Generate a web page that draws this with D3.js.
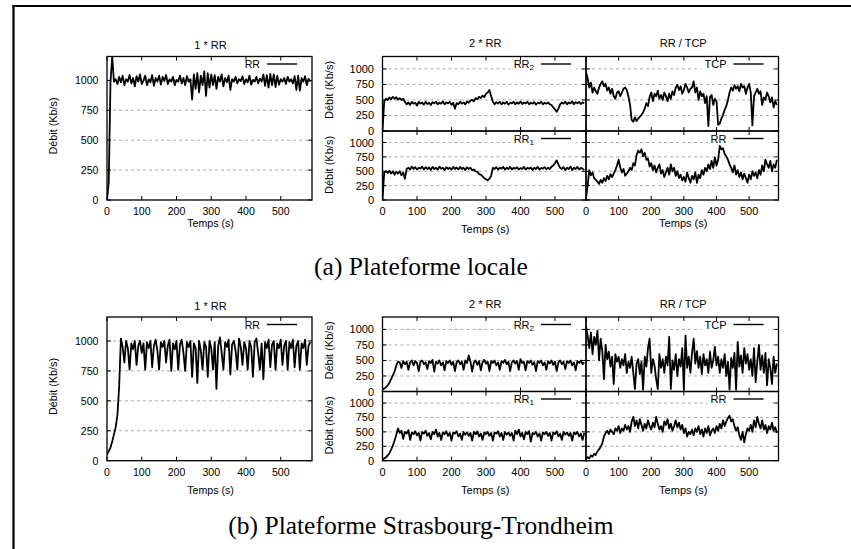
<!DOCTYPE html>
<html lang="fr">
<head>
<meta charset="UTF-8">
<title>Débit RR / TCP</title>
<script src="https://d3js.org/d3.v7.min.js"></script>
<style>
    body { margin: 0; background: #fff; }
    svg { display: block; }
    .sans { font-family: "Liberation Sans", Arial, Helvetica, sans-serif; fill: #000; }
    .caption { font-family: "Liberation Serif", "Times New Roman", serif; fill: #000; }
</style>
</head>
<body>
<svg id="chart" width="851" height="549"></svg>
<script>
// sampling step of every series (s)
const T_STEP = 5;
const xTicks = [0, 100, 200, 300, 400, 500];
const yTicks = [0, 250, 500, 750, 1000];
const panelTitles = ["1 * RR", "2 * RR", "RR / TCP"];
const captions = ["(a) Plateforme locale", "(b) Plateforme Strasbourg-Trondheim"];
const xLabel = "Temps (s)";
const yLabel = "Débit (Kb/s)";

// (a) plateforme locale
const localSingle = [
    0, 150, 980, 1200, 990, 1010, 970, 1030, 985, 1040,
    960, 1010, 990, 1045, 975, 1020, 950, 1035, 990, 1050,
    970, 1000, 1040, 960, 1010, 985, 1045, 955, 1020, 990,
    1040, 965, 1030, 995, 1045, 970, 1010, 990, 1030, 960,
    1005, 990, 1040, 975, 1020, 960, 1035, 990, 1010, 840,
    1050, 930, 1060, 900, 1040, 960, 1075, 870, 1060, 940,
    1050, 960, 1045, 930, 1030, 990, 1050, 950, 1020, 985,
    1040, 920, 1010, 990, 1030, 975, 1010, 995, 1035, 970,
    1010, 985, 1040, 965, 1005, 990, 1030, 975, 1015, 990,
    1050, 955, 1045, 940, 1055, 960, 1050, 945, 1040, 965,
    1010, 990, 1020, 970, 1030, 990, 1010, 975, 1035, 920,
    1040, 915, 1020, 990, 1035, 960, 1015, 990
];
const localRR2 = [
    0, 480, 520, 500, 540, 510, 550, 520, 545, 505,
    530, 500, 520, 470, 430, 460, 420, 470, 440, 455,
    410, 470, 440, 460, 425, 470, 435, 455, 420, 465,
    445, 470, 430, 455, 440, 475, 430, 460, 445, 470,
    420, 455, 360, 450, 430, 470, 440, 460, 430, 475,
    455, 490, 500, 480, 530, 510, 550, 530, 570, 545,
    600, 620, 660, 560, 470, 430, 465, 440, 470, 430,
    460, 440, 470, 425, 455, 445, 470, 430, 460, 440,
    475, 435, 460, 445, 470, 430, 455, 440, 465, 425,
    455, 445, 470, 430, 455, 440, 460, 430, 420, 380,
    350, 310, 360, 430, 460, 440, 470, 430, 460, 445,
    480, 430, 465, 445, 470, 435, 460, 450
];
const localRR1 = [
    0, 480, 500, 470, 510, 460, 500, 440, 490, 460,
    500, 430, 480, 370, 540, 560, 530, 580, 540, 570,
    530, 560, 545, 580, 530, 570, 540, 565, 520, 575,
    540, 560, 530, 580, 545, 560, 520, 570, 540, 560,
    530, 575, 540, 565, 530, 575, 540, 560, 520, 570,
    540, 560, 520, 530, 500, 490, 450, 440, 410, 380,
    360, 340, 370, 420, 560, 540, 570, 530, 560, 545,
    575, 530, 560, 540, 575, 530, 560, 545, 570, 530,
    555, 540, 575, 530, 560, 545, 565, 520, 560, 540,
    575, 530, 560, 545, 570, 535, 560, 540, 580, 600,
    640, 690, 620, 560, 540, 570, 520, 560, 540, 580,
    520, 560, 540, 575, 530, 560, 545, 520
];
const localTCP = [
    950, 850, 700, 780, 620, 700, 640, 600, 700, 760,
    800, 720, 760, 650, 700, 600, 680, 560, 520, 620,
    640, 560, 620, 680, 700, 660, 560, 420, 180, 150,
    220, 160, 200, 230, 260, 300, 360, 450, 400, 550,
    620, 480, 600, 560, 650, 520, 580, 500, 620, 560,
    480, 600, 520, 640, 580, 700, 740, 660, 720, 600,
    660, 760, 700, 620, 680, 700, 800, 620, 700, 500,
    640, 560, 600, 450, 560, 80, 550, 580, 420, 520,
    480, 100, 120, 200, 260, 340, 400, 500, 620, 700,
    650, 740, 680, 720, 640, 760, 700, 720, 600, 700,
    760, 620, 90, 560, 620, 680, 600, 640, 420, 540,
    500, 620, 560, 460, 540, 380, 480, 420
];
const localRR = [
    30, 250, 520, 430, 480, 380, 350, 320, 280, 350,
    300, 380, 330, 420, 360, 450, 400, 460, 520, 600,
    700, 560, 480, 540, 420, 460, 500, 560, 520, 640,
    600, 780, 860, 820, 880, 760, 820, 700, 720, 580,
    640, 520, 600, 480, 560, 620, 460, 520, 400, 480,
    560, 440, 620, 500, 560, 420, 500, 380, 440, 340,
    400, 320, 480, 380, 300, 420, 360, 480, 300, 440,
    380, 520, 440, 560, 500, 620, 540, 680, 560, 740,
    600, 700, 940, 880, 900, 800, 760, 700, 620, 560,
    480, 600, 440, 520, 400, 480, 360, 460, 380, 300,
    440, 360, 500, 420, 480, 380, 520, 440, 600, 500,
    700, 620, 560, 680, 500, 620, 560, 700
];

// (b) plateforme Strasbourg-Trondheim
const strasSingle = [
    50, 80, 110, 160, 220, 280, 380, 620, 1020, 950,
    820, 1000, 940, 760, 980, 930, 1000, 800, 960, 1000,
    900, 980, 760, 990, 940, 1000, 780, 960, 1010, 920,
    760, 990, 950, 1000, 820, 960, 1010, 750, 980, 930,
    1000, 760, 970, 1010, 900, 750, 990, 950, 1000, 700,
    980, 940, 650, 1000, 920, 760, 990, 950, 700, 1000,
    940, 760, 990, 600, 960, 1030, 900, 760, 990, 950,
    1010, 720, 970, 1000, 920, 760, 1020, 950, 800, 990,
    940, 760, 1000, 950, 700, 990, 1020, 900, 760, 980,
    680, 990, 940, 1010, 780, 970, 1000, 760, 980, 940,
    1010, 800, 960, 1000, 760, 990, 940, 1010, 780, 960,
    1000, 760, 980, 940, 1010, 800, 960, 990
];
const strasRR2 = [
    30, 50, 70, 100, 140, 200, 260, 320, 420, 480,
    470, 380, 490, 440, 480, 350, 470, 500, 420, 490,
    460, 330, 480, 500, 440, 470, 360, 490, 460, 510,
    320, 480, 450, 500, 420, 470, 340, 490, 460, 500,
    430, 480, 330, 470, 500, 440, 480, 350, 500, 460,
    580, 480, 320, 470, 500, 430, 490, 340, 470, 510,
    450, 480, 330, 490, 460, 500, 420, 470, 350, 490,
    460, 510, 440, 480, 330, 470, 500, 450, 490, 350,
    520, 460, 480, 340, 490, 460, 500, 430, 470, 330,
    490, 460, 500, 420, 470, 350, 490, 450, 500, 430,
    480, 330, 470, 500, 440, 480, 360, 490, 460, 500,
    420, 470, 340, 490, 460, 500, 440, 470
];
const strasRR1 = [
    20, 40, 60, 90, 130, 190, 260, 350, 450, 560,
    480, 520, 380, 500, 470, 530, 360, 490, 460, 510,
    440, 480, 350, 500, 470, 520, 430, 480, 370, 500,
    460, 540, 420, 480, 360, 490, 460, 510, 430, 480,
    350, 490, 470, 510, 420, 470, 360, 500, 450, 490,
    430, 480, 350, 500, 460, 510, 420, 470, 360, 490,
    460, 500, 430, 480, 350, 490, 470, 510, 420, 480,
    360, 500, 450, 490, 430, 480, 350, 520, 460, 540,
    420, 480, 370, 500, 460, 510, 330, 480, 460, 500,
    420, 470, 350, 490, 460, 500, 430, 480, 350, 490,
    460, 510, 420, 470, 360, 500, 450, 490, 430, 480,
    350, 490, 460, 500, 420, 470, 360, 480
];
const strasTCP = [
    1050, 900, 700, 950, 600, 880, 750, 980, 500, 850,
    650, 200, 750, 520, 640, 400, 560, 120, 600, 480,
    560, 380, 520, 420, 600, 300, 480, 380, 560, 300,
    40, 450, 520, 280, 480, 30, 560, 400, 700, 850,
    300, 520, 420, 200, 40, 600, 380, 520, 300, 560,
    420, 880, 40, 500, 350, 600, 250, 520, 400, 700,
    30, 900, 380, 560, 300, 620, 850, 450, 650, 380,
    560, 280, 600, 420, 520, 300, 640, 380, 500, 720,
    420, 560, 300, 520, 380, 600, 250, 480, 30, 540,
    380, 620, 30, 800, 400, 580, 300, 700, 450, 600,
    350, 520, 250, 700, 150, 480, 750, 350, 580, 300,
    620, 100, 520, 380, 120, 560, 300, 450
];
const strasRR = [
    30, 60, 40, 90, 70, 120, 100, 160, 200, 240,
    300, 420, 480, 520, 460, 540, 500, 460, 560, 520,
    600, 480, 560, 520, 620, 540, 600, 500, 680, 760,
    600, 700, 560, 720, 620, 520, 640, 560, 700, 600,
    540, 660, 580, 760, 640, 540, 600, 500, 680, 620,
    720, 560, 640, 520, 600, 700, 580, 660, 540, 620,
    480, 560, 420, 500, 460, 540, 440, 560, 500, 600,
    460, 540, 420, 560, 480, 600, 440, 520, 560, 480,
    600, 520, 640, 560, 700, 600, 680, 740, 780, 680,
    720, 600, 520, 580, 440, 360, 500, 320, 460, 560,
    520, 620, 500, 700, 580, 760, 640, 560, 700, 540,
    620, 480, 600, 540, 660, 520, 580, 480
];

const svg = d3.select("#chart");
svg.append("rect").attr("width", 851).attr("height", 549).attr("fill", "#fff");

// page frame (left + top rules)
svg.append("line").attr("x1", 13.5).attr("x2", 13.5).attr("y1", 5).attr("y2", 549)
    .attr("stroke", "#000").attr("stroke-width", 2.2);
svg.append("line").attr("x1", 12.5).attr("x2", 851).attr("y1", 6).attr("y2", 6)
    .attr("stroke", "#000").attr("stroke-width", 2.2);

const cols = [[107, 312], [382.5, 586], [586, 778.5]];
const rows = [
    { top: 56.5, mid: 131, bottom: 200, titleY: [45.3, 43.3, 43.3], tickY: 211, xLabY: [223, 229, 223], capY: 266,
      data: [localSingle, localRR2, localRR1, localTCP, localRR] },
    { top: 317, mid: 391.5, bottom: 460.7, titleY: [306, 304.3, 303.5], tickY: 472, xLabY: [490, 490, 490], capY: 525,
      data: [strasSingle, strasRR2, strasRR1, strasTCP, strasRR] }
];

let clipCount = 0;

function drawPlot(box, values, opt) {
    const x = d3.scaleLinear().domain([0, 590]).range([box.x0, box.x1]);
    const y = d3.scaleLinear().domain([0, 1200]).range([box.y1, box.y0]);
    const g = svg.append("g");
    const fs = opt.fontSize || 11;

    const id = "clip" + (clipCount++);
    g.append("clipPath").attr("id", id).append("rect")
        .attr("x", box.x0).attr("y", box.y0)
        .attr("width", box.x1 - box.x0).attr("height", box.y1 - box.y0);

    // horizontal grid
    g.selectAll("line.grid").data(yTicks.filter(d => d > 0)).join("line")
        .attr("class", "grid")
        .attr("x1", box.x0).attr("x2", box.x1)
        .attr("y1", d => y(d)).attr("y2", d => y(d))
        .attr("stroke", "#a0a0a0").attr("stroke-width", 0.9)
        .attr("stroke-dasharray", "3,3");

    const line = d3.line().x((d, i) => x(i * T_STEP)).y(d => y(d));
    g.append("path").datum(values)
        .attr("d", line)
        .attr("fill", "none").attr("stroke", "#000")
        .attr("stroke-width", 1.8).attr("stroke-linejoin", "round")
        .attr("clip-path", `url(#${id})`);

    // key (opaque)
    const ky = box.y0 + 7.5;
    const keyBg = g.append("rect").attr("fill", "#fff");
    const kt = g.append("text").attr("class", "sans")
        .attr("x", box.x1 - 52).attr("y", ky)
        .attr("text-anchor", "end").attr("dominant-baseline", "central")
        .style("font-size", fs + "px");
    kt.append("tspan").text(opt.key);
    if (opt.sub) {
        kt.append("tspan").attr("dy", 3).style("font-size", (fs - 3) + "px").text(opt.sub);
    }
    const kw = kt.node().getComputedTextLength();
    keyBg.attr("x", box.x1 - 52 - kw - 3).attr("y", box.y0 + 1)
        .attr("width", kw + 3 + 42).attr("height", 13);
    g.append("line")
        .attr("x1", box.x1 - 45).attr("x2", box.x1 - 15)
        .attr("y1", ky).attr("y2", ky)
        .attr("stroke", "#000").attr("stroke-width", 1.4);

    // frame
    g.append("rect")
        .attr("x", box.x0).attr("y", box.y0)
        .attr("width", box.x1 - box.x0).attr("height", box.y1 - box.y0)
        .attr("fill", "none").attr("stroke", "#000").attr("stroke-width", 1.3);

    // inward ticks on all four sides
    const tl = 4;
    xTicks.forEach(t => {
        g.append("line").attr("x1", x(t)).attr("x2", x(t))
            .attr("y1", box.y1).attr("y2", box.y1 - tl).attr("stroke", "#000");
        g.append("line").attr("x1", x(t)).attr("x2", x(t))
            .attr("y1", box.y0).attr("y2", box.y0 + tl).attr("stroke", "#000");
    });
    yTicks.forEach(v => {
        g.append("line").attr("x1", box.x0).attr("x2", box.x0 + tl)
            .attr("y1", y(v)).attr("y2", y(v)).attr("stroke", "#000");
        g.append("line").attr("x1", box.x1).attr("x2", box.x1 - tl)
            .attr("y1", y(v)).attr("y2", y(v)).attr("stroke", "#000");
    });

    if (opt.showY) {
        g.selectAll("text.ytl").data(yTicks).join("text")
            .attr("class", "sans ytl")
            .attr("x", box.x0 - 8.5).attr("y", d => y(d))
            .attr("text-anchor", "end").attr("dominant-baseline", "central")
            .style("font-size", fs + "px")
            .text(d => d);
    }
    if (opt.tickY) {
        g.selectAll("text.xtl").data(xTicks).join("text")
            .attr("class", "sans xtl")
            .attr("x", d => x(d)).attr("y", opt.tickY)
            .attr("text-anchor", "middle").attr("dominant-baseline", "central")
            .style("font-size", fs + "px")
            .text(d => d);
    }
}

function label(txt, x, y, size, rotate) {
    svg.append("text").attr("class", "sans")
        .attr("transform", `translate(${x},${y})` + (rotate ? " rotate(-90)" : ""))
        .attr("text-anchor", "middle").attr("dominant-baseline", "central")
        .style("font-size", size + "px")
        .text(txt);
}

rows.forEach((r, ri) => {
    const [single, rr2, rr1, tcp, rr] = r.data;

    // 1 * RR
    drawPlot({ x0: cols[0][0], x1: cols[0][1], y0: r.top, y1: r.bottom }, single,
        { key: "RR", showY: true, tickY: r.tickY, fontSize: 10.6 });
    // 2 * RR
    drawPlot({ x0: cols[1][0], x1: cols[1][1], y0: r.top, y1: r.mid }, rr2,
        { key: "RR", sub: "2", showY: true });
    drawPlot({ x0: cols[1][0], x1: cols[1][1], y0: r.mid, y1: r.bottom }, rr1,
        { key: "RR", sub: "1", showY: true, tickY: r.tickY });
    // RR / TCP
    drawPlot({ x0: cols[2][0], x1: cols[2][1], y0: r.top, y1: r.mid }, tcp,
        { key: "TCP" });
    drawPlot({ x0: cols[2][0], x1: cols[2][1], y0: r.mid, y1: r.bottom }, rr,
        { key: "RR", tickY: r.tickY });

    panelTitles.forEach((t, i) => {
        label(t, (cols[i][0] + cols[i][1]) / 2 + 1, r.titleY[i], 11);
        label(xLabel, (cols[i][0] + cols[i][1]) / 2 + 1, r.xLabY[i], i === 0 ? 10.6 : 11);
    });

    label(yLabel, 53, r.top + 69.5, 10.8, true);
    label(yLabel, 329, r.top + 33.5, 11, true);
    label(yLabel, 329, r.mid + 34, 11, true);

    svg.append("text").attr("class", "caption")
        .attr("x", 421).attr("y", r.capY)
        .attr("text-anchor", "middle").attr("dominant-baseline", "central")
        .style("font-size", "25.5px")
        .text(captions[ri]);
});
</script>
</body>
</html>
